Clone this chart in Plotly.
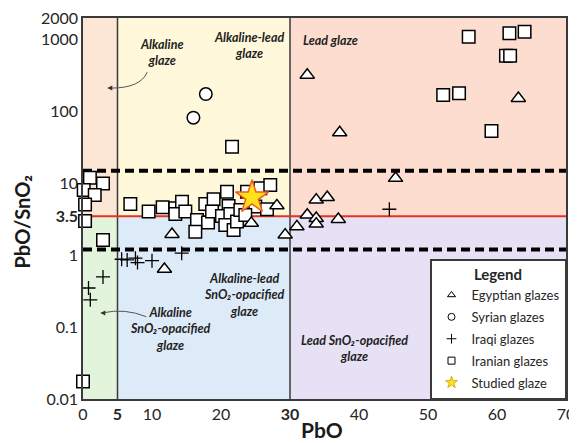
import math
import plotly.graph_objects as go

# ---------------- data ----------------
egypt_x = [32.5, 37.2, 63.1, 45.3, 33.8, 35.4, 32.5, 33.8, 33.8, 37.0, 31.0, 29.3, 28.1, 24.4, 12.9, 11.8]
egypt_y = [322, 51, 153, 11.8, 5.9, 6.4, 3.64, 3.27, 2.73, 3.17, 2.5, 1.92, 4.9, 2.8, 1.96, 0.64]

syria_x = [17.8, 16.0]
syria_y = [175, 82]

iraq_x = [0.8, 1.06, 2.9, 5.6, 6.4, 7.6, 7.9, 10.0, 14.3, 44.4]
iraq_y = [0.35, 0.24, 0.50, 0.88, 0.86, 0.91, 0.79, 0.84, 1.07, 4.37]

iran_x = [55.9, 61.8, 64.0, 61.3, 61.9, 52.2, 54.5, 59.2, 21.6,
          1.0, 2.9, 0.1, 1.7, 0.3, 0.3, 2.9, 0.0,
          6.86, 9.51, 11.54, 13.38, 14.35, 13.38, 14.83, 16.52, 18.12, 16.28,
          17.72, 18.93, 18.70, 20.87, 21.10, 20.14, 21.35, 20.62, 21.83, 22.32,
          22.80, 23.77, 25.70, 27.14, 24.97, 26.67, 23.52]
iran_y = [1100, 1225, 1290, 598, 598, 170, 179, 53.6, 32.4,
          12.0, 10.0, 8.1, 6.9, 5.1, 3.0, 1.63, 0.0175,
          5.18, 4.05, 4.66, 4.51, 5.57, 3.76, 4.05, 3.10, 2.85, 2.13,
          5.18, 6.0, 4.05, 7.67, 4.86, 3.52, 3.76, 2.64, 2.25, 2.94,
          4.27, 7.67, 8.55, 9.5, 4.75, 4.37, 3.64]

studied_x = [24.5]
studied_y = [6.4]

# region boundaries
pbo_bounds = [0, 5, 30, 70]
ratio_min, ratio_split, ratio_max = 0.01, 3.5, 2000
dashed_levels = [15, 1.2]

x_tickvals = [0, 5, 10, 20, 30, 40, 50, 60, 70]
x_ticktext = ["0", "<b>5</b>", "10", "20", "<b>30</b>", "40", "50", "60", "70"]
y_tickvals = [0.01, 0.1, 1, 3.5, 10, 100, 1000, 2000]
y_ticktext = ["0.01", "0.1", "1", "<b>3.5</b>", "10", "100", "1000", "2000"]

upper_colors = ["#FCE6D6", "#FFF8DA", "#FCDDCF"]
lower_colors = ["#E3F4DC", "#DDEBF8", "#E6E1F5"]

FONT = "Lato"
fig = go.Figure()

# background regions
for i in range(3):
    x0, x1 = pbo_bounds[i], pbo_bounds[i + 1]
    for (ya, yb, col) in [(ratio_split, ratio_max, upper_colors[i]), (ratio_min, ratio_split, lower_colors[i])]:
        fig.add_trace(go.Scatter(x=[x0, x1, x1, x0, x0], y=[ya, ya, yb, yb, ya], fill="toself",
                                 fillcolor=col, mode="lines", line=dict(width=0),
                                 hoverinfo="skip", showlegend=False))

# vertical boundaries
for xv in pbo_bounds[1:3]:
    fig.add_trace(go.Scatter(x=[xv, xv], y=[ratio_min, ratio_max], mode="lines",
                             line=dict(color="#3a3a3a", width=1.5), showlegend=False, hoverinfo="skip"))
# red line 3.5
fig.add_trace(go.Scatter(x=[0, 70], y=[ratio_split, ratio_split], mode="lines",
                         line=dict(color="#E8321E", width=2), showlegend=False, hoverinfo="skip"))
# dashed lines
for lv in dashed_levels:
    fig.add_trace(go.Scatter(x=[0, 70], y=[lv, lv], mode="lines",
                             line=dict(color="black", width=4, dash="9px,5px"),
                             showlegend=False, hoverinfo="skip"))

open_marker = lambda sym, size: dict(symbol=sym, size=size, color="white", line=dict(color="black", width=1.5))

fig.add_trace(go.Scatter(x=iran_x, y=iran_y, mode="markers", marker=open_marker("square", 12.5),
                         showlegend=False, cliponaxis=False))
fig.add_trace(go.Scatter(x=egypt_x, y=egypt_y, mode="markers", marker=open_marker("triangle-up", 12.5),
                         showlegend=False, cliponaxis=False))
fig.add_trace(go.Scatter(x=syria_x, y=syria_y, mode="markers", marker=open_marker("circle", 12.5),
                         showlegend=False, cliponaxis=False))
fig.add_trace(go.Scatter(x=iraq_x, y=iraq_y, mode="markers",
                         marker=dict(symbol="cross-thin", size=10, line=dict(color="black", width=1.3)),
                         showlegend=False, cliponaxis=False))
fig.add_trace(go.Scatter(x=studied_x, y=studied_y, mode="markers",
                         marker=dict(symbol="star", size=25, color="#FFE21A", line=dict(color="#EE5A24", width=1.5)),
                         showlegend=False, cliponaxis=False))

# legend-only entries (small symbols)
legend_items = [
    ("Egyptian glazes", dict(symbol="triangle-up", size=7, color="white", line=dict(color="black", width=1))),
    ("Syrian glazes", dict(symbol="circle", size=7, color="white", line=dict(color="black", width=1))),
    ("Iraqi glazes", dict(symbol="cross-thin", size=7, line=dict(color="black", width=1))),
    ("Iranian glazes", dict(symbol="square", size=7, color="white", line=dict(color="black", width=1))),
    ("Studied glaze", dict(symbol="star", size=9, color="#FFE21A", line=dict(color="#C9A000", width=0.8))),
]
for i, (name, mk) in enumerate(legend_items):
    fig.add_trace(go.Scatter(x=[None], y=[None], mode="markers", marker=mk, name=name,
                             legendgroup=f"g{i}", showlegend=True))

# region labels
lab_font = dict(family=FONT, size=12.5, color="#222")
def lab(text, x, ylog, align="center"):
    fig.add_annotation(x=x, y=ylog, xref="x", yref="y", text=f"<b><i>{text}</i></b>",
                       showarrow=False, font=lab_font, align=align)

lab("Alkaline<br>glaze", 11.5, 2.821)
lab("Alkaline-lead<br>glaze", 24.0, 2.912)
lab("Lead glaze", 35.9, 2.995)
lab("Alkaline-lead<br>SnO₂-opacified<br>glaze", 23.4, -0.559)
lab("Alkaline<br>SnO₂-opacified<br>glaze", 12.75, -1.02)
lab("Lead SnO₂-opacified<br>glaze", 39.3, -1.303)

# curved arrows
fig.add_shape(type="path", xref="paper", yref="paper",
              path="M 0.133 0.858 Q 0.119 0.816 0.058 0.816", line=dict(color="#555", width=1))
fig.add_annotation(xref="paper", yref="paper", x=0.0503, y=0.816, ax=6, ay=0, text="",
                   showarrow=True, arrowhead=2, arrowsize=1, arrowwidth=1, arrowcolor="#333")
fig.add_shape(type="path", xref="paper", yref="paper",
              path="M 0.131 0.216 Q 0.087 0.239 0.040 0.226", line=dict(color="#555", width=1))
fig.add_annotation(xref="paper", yref="paper", x=0.0358, y=0.226, ax=6, ay=0, text="",
                   showarrow=True, arrowhead=2, arrowsize=1, arrowwidth=1, arrowcolor="#333")

# axis titles
fig.add_annotation(xref="paper", yref="paper", x=-0.127, y=0.465, xanchor="center", yanchor="middle",
                   text="<b>PbO/SnO₂</b>", textangle=-90, showarrow=False,
                   font=dict(family=FONT, size=20, color="#1a1a1a"))
fig.add_annotation(xref="paper", yref="paper", x=0.495, y=-0.081, xanchor="center", yanchor="middle",
                   text="<b>PbO</b>", showarrow=False, font=dict(family=FONT, size=21, color="#1a1a1a"))

axis_common = dict(showgrid=False, zeroline=False, showline=True, linecolor="#3a3a3a", linewidth=1.5,
                   mirror=True, ticks="", automargin=False, ticklabeloverflow="allow",
                   tickfont=dict(family=FONT, size=16, color="#262626"))

# page body has an 8px margin, so the figure is sized to the remaining window
fig.update_layout(
    width=569, height=435,
    margin=dict(l=75, r=11, t=10, b=44),
    plot_bgcolor="white", paper_bgcolor="white",
    font=dict(family=FONT, color="#262626"),
    xaxis=dict(range=[0, 70.001], tickvals=x_tickvals, ticktext=x_ticktext, **axis_common),
    yaxis=dict(type="log", range=[-2.0001, math.log10(2001)], tickvals=y_tickvals, ticktext=y_ticktext,
               **axis_common),
    legend=dict(x=1, y=0, xanchor="right", yanchor="bottom", bgcolor="white",
                bordercolor="#3a3a3a", borderwidth=1.5, traceorder="grouped", tracegroupgap=2,
                font=dict(family=FONT, size=13, color="#262626"),
                title=dict(text="<b>Legend</b>", side="top center", font=dict(family=FONT, size=15))),
    showlegend=True,
)

fig.write_html("out.html")
